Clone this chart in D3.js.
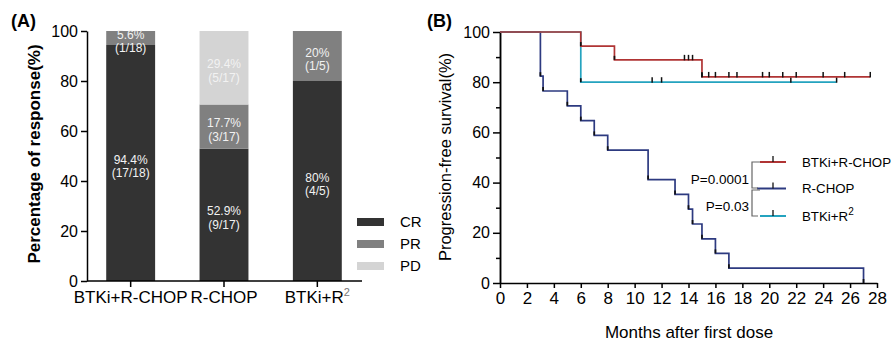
<!DOCTYPE html>
<html>
<head>
<meta charset="utf-8">
<script src="https://cdn.jsdelivr.net/npm/d3@7"></script>
<style>
  body { margin: 0; background: #fff; }
  svg { font-family: Arial, "Liberation Sans", sans-serif; }
  .axis path, .axis line { stroke: #000; stroke-width: 1.5; }
  .axis text { font-size: 16px; fill: #000; }
</style>
</head>
<body>
<svg id="chart" width="893" height="344"></svg>
<script>
// ---- panel A data ----
var groups = ["BTKi+R-CHOP", "R-CHOP", "BTKi+R2"];
var crPct = [94.4, 52.9, 80];
var prPct = [5.6, 17.7, 20];
var pdPct = [0, 29.4, 0];
var crFrac = ["(17/18)", "(9/17)", "(4/5)"];
var prFrac = ["(1/18)", "(3/17)", "(1/5)"];
var pdFrac = ["", "(5/17)", ""];
var responses = ["CR", "PR", "PD"];
var respColors = ["#333333", "#808080", "#d4d4d4"];

// ---- panel B data ----
var redTimes = [0, 6, 8.5, 15, 27.5];
var redSurv = [100, 94.4, 88.9, 82.1, 82.1];
var redCensor = [13.7, 14, 14.3, 15, 15.5, 16, 17, 17.6, 19.5, 20, 21, 22, 24, 25.6, 27.5];

var blueTimes = [0, 3, 3.2, 5, 6, 7, 8, 11, 13, 14, 14.3, 15, 16, 17, 27];
var blueSurv = [100, 82.4, 76.5, 70.6, 64.7, 58.8, 52.9, 41.2, 35.3, 29.4, 23.5, 17.6, 11.8, 5.9, 0];
var blueCensor = [];

var cyanTimes = [0, 6, 25];
var cyanSurv = [100, 80, 80];
var cyanCensor = [11.3, 12, 21.6, 25];

var kmNames = ["BTKi+R-CHOP", "R-CHOP", "BTKi+R2"];
var kmColors = ["#b03434", "#2d3a80", "#24a3bf"];
var pValues = ["P=0.0001", "P=0.03"];

var svg = d3.select("#chart");

// label with superscript 2
function writeLabel(sel, name, supSize, supDy) {
  if (name.slice(-2) === "R2") {
    sel.append("tspan").text(name.slice(0, -1));
    sel.append("tspan").text("2")
      .style("font-size", supSize + "px")
      .attr("dy", supDy);
  } else {
    sel.text(name);
  }
}

// ================= panel A =================
var yA = d3.scaleLinear().domain([0, 100]).range([281, 31]);
var xA = d3.scaleBand().domain(groups).range([84, 364])
  .paddingInner(0.476).paddingOuter(0.238);

var table = groups.map((g, i) => ({ group: g, CR: crPct[i], PR: prPct[i], PD: pdPct[i],
  fr: { CR: crFrac[i], PR: prFrac[i], PD: pdFrac[i] } }));
var stacked = d3.stack().keys(responses)(table);

var layers = svg.append("g").selectAll("g")
  .data(stacked)
  .join("g")
    .attr("fill", (d, i) => respColors[i]);

layers.selectAll("rect")
  .data(d => d)
  .join("rect")
    .attr("x", d => xA(d.data.group))
    .attr("width", xA.bandwidth())
    .attr("y", d => yA(d[1]))
    .attr("height", d => yA(d[0]) - yA(d[1]));

// segment labels
stacked.forEach(layer => {
  layer.forEach(d => {
    var v = d[1] - d[0];
    if (v <= 0) return;
    var cy = (yA(d[0]) + yA(d[1])) / 2;
    var cx = xA(d.data.group) + xA.bandwidth() / 2;
    var t = svg.append("text")
      .attr("x", cx)
      .attr("y", cy + 0.5)
      .attr("text-anchor", "middle")
      .style("font-size", "12px")
      .attr("fill", "#f2f2f2");
    t.append("tspan").attr("x", cx).text(d.data[layer.key] + "%");
    t.append("tspan").attr("x", cx).attr("dy", "1.15em").text(d.data.fr[layer.key]);
  });
});

// y axis
svg.append("g")
  .classed("axis", true)
  .attr("transform", "translate(87,0)")
  .call(d3.axisLeft(yA).tickValues([0, 20, 40, 60, 80, 100]).tickSize(6).tickSizeOuter(0).tickPadding(3));

// x axis
var xAxisA = svg.append("g")
  .classed("axis", true)
  .attr("transform", "translate(0,281)")
  .call(d3.axisBottom(xA).tickSize(6).tickSizeOuter(0).tickPadding(4));
xAxisA.select(".domain").remove();
xAxisA.append("line").attr("x1", 87).attr("x2", 362).attr("stroke", "#000").attr("stroke-width", 1.5);
xAxisA.selectAll(".tick text")
  .style("font-size", "17px")
  .text(null)
  .each(function (d) { writeLabel(d3.select(this), d, 11, -7); });
xAxisA.selectAll(".tick text tspan:last-child").filter(function () { return this.textContent === "2"; })
  .attr("fill", "#777");

// y label
svg.append("text")
  .attr("transform", "translate(40,154) rotate(-90)")
  .attr("text-anchor", "middle")
  .style("font-size", "17px")
  .style("font-weight", "bold")
  .text("Percentage of response(%)");

// legend A
var legA = svg.append("g").selectAll("g")
  .data(responses)
  .join("g")
    .attr("transform", (d, i) => `translate(357,${222 + i * 22})`);
legA.append("rect")
  .attr("y", -4).attr("width", 27).attr("height", 8)
  .attr("fill", (d, i) => respColors[i]);
legA.append("text")
  .attr("x", 43).attr("dy", "0.36em")
  .style("font-size", "15px")
  .text(d => d);

svg.append("text").attr("x", 11).attr("y", 27)
  .style("font-size", "18px").style("font-weight", "bold").text("(A)");
svg.append("text").attr("x", 427).attr("y", 27)
  .style("font-size", "18px").style("font-weight", "bold").text("(B)");

// ================= panel B =================
var xB = d3.scaleLinear().domain([0, 28]).range([500, 877]);
var yB = d3.scaleLinear().domain([0, 100]).range([283, 32]);

svg.append("g")
  .classed("axis", true)
  .attr("transform", "translate(500,0)")
  .call(d3.axisLeft(yB).tickValues(d3.range(10, 100, 20)).tickSize(4).tickSizeOuter(0).tickFormat(""));
svg.append("g")
  .classed("axis", true)
  .attr("transform", "translate(500,0)")
  .call(d3.axisLeft(yB).tickValues([0, 20, 40, 60, 80, 100]).tickSize(7).tickSizeOuter(0).tickPadding(3));

var xAxisB = svg.append("g")
  .classed("axis", true)
  .attr("transform", "translate(0,283)")
  .call(d3.axisBottom(xB).tickValues(d3.range(0, 29, 2)).tickSize(5).tickSizeOuter(0).tickPadding(4));
xAxisB.selectAll(".tick text").style("font-size", "17px");

svg.append("text")
  .attr("x", 689).attr("y", 338)
  .attr("text-anchor", "middle")
  .style("font-size", "17px")
  .text("Months after first dose");

svg.append("text")
  .attr("transform", "translate(451,157) rotate(-90)")
  .attr("text-anchor", "middle")
  .style("font-size", "16.5px")
  .text("Progression-free survival(%)");

var curves = [
  { t: redTimes, s: redSurv, c: redCensor },
  { t: blueTimes, s: blueSurv, c: blueCensor },
  { t: cyanTimes, s: cyanSurv, c: cyanCensor }
];

var step = d3.line()
  .x(d => xB(d[0]))
  .y(d => yB(d[1]))
  .curve(d3.curveStepAfter);

// draw blue first, then cyan and red on top
[1, 2, 0].forEach(k => {
  var cv = curves[k];
  var pts = cv.t.map((t, i) => [t, cv.s[i]]);
  svg.append("path")
    .attr("d", step(pts))
    .attr("fill", "none")
    .attr("stroke", kmColors[k])
    .attr("stroke-width", 1.7);

  // dark marks at the foot of each drop
  pts.forEach((p, i) => {
    if (i === 0 || cv.s[i] >= cv.s[i - 1]) return;
    svg.append("line")
      .attr("x1", xB(p[0])).attr("x2", xB(p[0]))
      .attr("y1", yB(p[1])).attr("y2", yB(p[1]) - 4)
      .attr("stroke", "#111").attr("stroke-width", 1.7);
  });

  // censor ticks
  cv.c.forEach(ct => {
    var idx = d3.bisectRight(cv.t, ct) - 1;
    var sv = cv.s[Math.max(0, idx)];
    svg.append("line")
      .attr("x1", xB(ct)).attr("x2", xB(ct))
      .attr("y1", yB(sv) + 0.5).attr("y2", yB(sv) - 5)
      .attr("stroke", "#111").attr("stroke-width", 1.5);
  });
});

// legend B
var legY = [162, 188.5, 216];
var legB = svg.append("g");
kmNames.forEach((n, i) => {
  legB.append("line")
    .attr("x1", i === 1 ? 757 : 760).attr("x2", 786)
    .attr("y1", legY[i]).attr("y2", legY[i])
    .attr("stroke", kmColors[i]).attr("stroke-width", 2);
  legB.append("line")
    .attr("x1", 773).attr("x2", 773)
    .attr("y1", legY[i]).attr("y2", legY[i] - 6)
    .attr("stroke", "#111").attr("stroke-width", 1.3);
  var t = legB.append("text")
    .attr("x", 802).attr("y", legY[i]).attr("dy", "0.36em")
    .style("font-size", "13.3px");
  writeLabel(t, n, 10, -6);
});

// p-value brackets
[[0, 1], [1, 2]].forEach((pr, j) => {
  var y1 = legY[pr[0]] + (j === 1 ? 1.5 : 0);
  var y2 = legY[pr[1]] - (j === 0 ? 0.5 : 0);
  var bx = 752;
  legB.append("path")
    .attr("d", `M${bx + 8},${y1}H${bx}V${y2}H${bx + 6}`)
    .attr("fill", "none").attr("stroke", "#666").attr("stroke-width", 1.2);
  legB.append("text")
    .attr("x", bx - 3).attr("y", (y1 + y2) / 2 + (j === 0 ? 4 : 3)).attr("dy", "0.36em")
    .attr("text-anchor", "end")
    .style("font-size", "13.5px")
    .text(pValues[j]);
});
</script>
</body>
</html>
